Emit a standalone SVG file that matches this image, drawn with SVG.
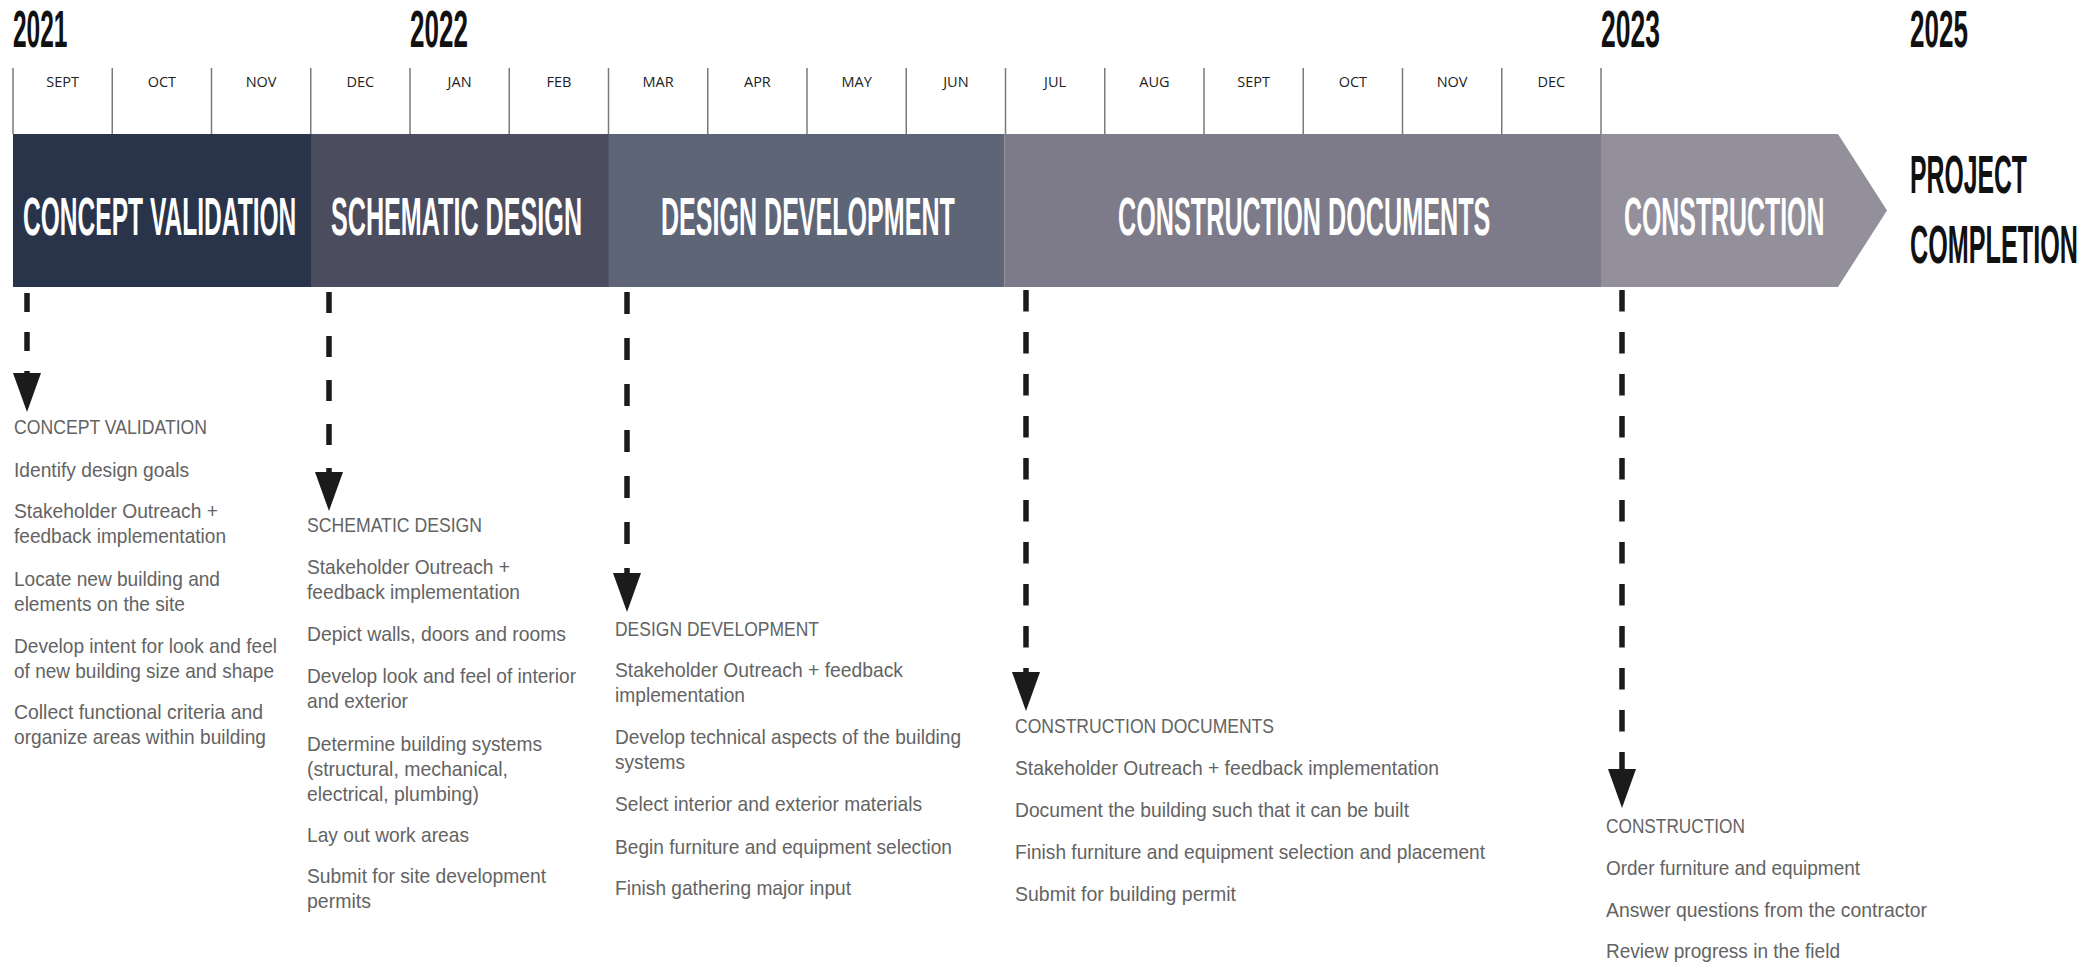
<svg xmlns="http://www.w3.org/2000/svg" width="2097" height="963" viewBox="0 0 2097 963">
<style>
.yr{font-family:"Liberation Sans",Arial,sans-serif;font-weight:bold;font-size:51px;fill:#111}
.mo{font-family:"Open Sans","Liberation Sans",sans-serif;font-size:14.5px;fill:#222;text-anchor:middle}
.tick{stroke:#7a7a7a;stroke-width:1.5}
.ph{font-family:"Liberation Sans",Arial,sans-serif;font-weight:bold;font-size:53px;fill:#fff}
.pc{font-family:"Liberation Sans",Arial,sans-serif;font-weight:bold;font-size:54px;fill:#111}
.tx{font-family:"Liberation Sans",Arial,sans-serif;font-size:21px;fill:#636363}
.arr{stroke:#1b1b1b;stroke-width:5.5;fill:none}
</style>
<defs>
<marker id="head" viewBox="0 -14 39 28" refX="0" refY="0" markerWidth="39" markerHeight="28" markerUnits="userSpaceOnUse" orient="auto">
<path d="M0,-14 L0,14 L39,0 Z" fill="#1b1b1b"/>
</marker>
</defs>
<rect width="2097" height="963" fill="#fff"/>

<g id="timeline">
<text class="yr" transform="translate(13,47) scale(0.48,1)">2021</text>
<text class="yr" transform="translate(410,47) scale(0.51,1)">2022</text>
<text class="yr" transform="translate(1601,47) scale(0.52,1)">2023</text>
<text class="yr" transform="translate(1910,47) scale(0.51,1)">2025</text>
<g>
<line class="tick" x1="13" y1="68" x2="13" y2="134"/>
<line class="tick" x1="112.25" y1="68" x2="112.25" y2="134"/>
<line class="tick" x1="211.5" y1="68" x2="211.5" y2="134"/>
<line class="tick" x1="310.75" y1="68" x2="310.75" y2="134"/>
<line class="tick" x1="410" y1="68" x2="410" y2="134"/>
<line class="tick" x1="509.25" y1="68" x2="509.25" y2="134"/>
<line class="tick" x1="608.5" y1="68" x2="608.5" y2="134"/>
<line class="tick" x1="707.75" y1="68" x2="707.75" y2="134"/>
<line class="tick" x1="807" y1="68" x2="807" y2="134"/>
<line class="tick" x1="906.25" y1="68" x2="906.25" y2="134"/>
<line class="tick" x1="1005.5" y1="68" x2="1005.5" y2="134"/>
<line class="tick" x1="1104.75" y1="68" x2="1104.75" y2="134"/>
<line class="tick" x1="1204" y1="68" x2="1204" y2="134"/>
<line class="tick" x1="1303.25" y1="68" x2="1303.25" y2="134"/>
<line class="tick" x1="1402.5" y1="68" x2="1402.5" y2="134"/>
<line class="tick" x1="1501.75" y1="68" x2="1501.75" y2="134"/>
<line class="tick" x1="1601" y1="68" x2="1601" y2="134"/>
</g>
<text class="mo" x="62.6" y="87">SEPT</text>
<text class="mo" x="161.9" y="87">OCT</text>
<text class="mo" x="261.1" y="87">NOV</text>
<text class="mo" x="360.4" y="87">DEC</text>
<text class="mo" x="459.6" y="87">JAN</text>
<text class="mo" x="558.9" y="87">FEB</text>
<text class="mo" x="658.1" y="87">MAR</text>
<text class="mo" x="757.4" y="87">APR</text>
<text class="mo" x="856.6" y="87">MAY</text>
<text class="mo" x="955.9" y="87">JUN</text>
<text class="mo" x="1055.1" y="87">JUL</text>
<text class="mo" x="1154.4" y="87">AUG</text>
<text class="mo" x="1253.6" y="87">SEPT</text>
<text class="mo" x="1352.9" y="87">OCT</text>
<text class="mo" x="1452.1" y="87">NOV</text>
<text class="mo" x="1551.4" y="87">DEC</text>
</g>

<g id="phase-concept">
<rect x="13" y="134" width="298" height="153" fill="#29344a"/>
<text class="ph" transform="translate(23,235) scale(0.4634,1)">CONCEPT VALIDATION</text>
</g>
<g id="phase-schematic">
<rect x="311" y="134" width="298" height="153" fill="#4b4c5e"/>
<text class="ph" transform="translate(331,235) scale(0.4747,1)">SCHEMATIC DESIGN</text>
</g>
<g id="phase-dd">
<rect x="608.5" y="134" width="396" height="153" fill="#5e6577"/>
<text class="ph" transform="translate(661,235) scale(0.4731,1)">DESIGN DEVELOPMENT</text>
</g>
<g id="phase-cd">
<rect x="1004.5" y="134" width="597" height="153" fill="#7d7b89"/>
<text class="ph" transform="translate(1118,235) scale(0.4756,1)">CONSTRUCTION DOCUMENTS</text>
</g>
<g id="phase-construction">
<path d="M1601,134 L1838,134 L1887,210.5 L1838,287 L1601,287 Z" fill="#93909c"/>
<text class="ph" transform="translate(1624,235) scale(0.4696,1)">CONSTRUCTION</text>
</g>
<g id="completion">
<text class="pc" transform="translate(1910,193) scale(0.4588,1)">PROJECT</text>
<text class="pc" transform="translate(1910,263) scale(0.4667,1)">COMPLETION</text>
</g>

<g id="connectors">
<line class="arr" x1="27" y1="293" x2="27" y2="373" stroke-dasharray="19 20" marker-end="url(#head)"/>
<line class="arr" x1="329" y1="292" x2="329" y2="472" stroke-dasharray="21 23" marker-end="url(#head)"/>
<line class="arr" x1="627" y1="292" x2="627" y2="573" stroke-dasharray="22 24" marker-end="url(#head)"/>
<line class="arr" x1="1026" y1="290" x2="1026" y2="672" stroke-dasharray="21.5 20.5" marker-end="url(#head)"/>
<line class="arr" x1="1622" y1="290" x2="1622" y2="769" stroke-dasharray="21.5 20.5" marker-end="url(#head)"/>
</g>

<g id="details-concept">
<text class="tx" x="14" y="434" textLength="193" lengthAdjust="spacingAndGlyphs">CONCEPT VALIDATION</text>
<text class="tx" x="14" y="477" textLength="175" lengthAdjust="spacingAndGlyphs">Identify design goals</text>
<text class="tx" x="14" y="518" textLength="204" lengthAdjust="spacingAndGlyphs">Stakeholder Outreach +</text>
<text class="tx" x="14" y="543" textLength="212" lengthAdjust="spacingAndGlyphs">feedback implementation</text>
<text class="tx" x="14" y="586" textLength="206" lengthAdjust="spacingAndGlyphs">Locate new building and</text>
<text class="tx" x="14" y="611" textLength="171" lengthAdjust="spacingAndGlyphs">elements on the site</text>
<text class="tx" x="14" y="653" textLength="263" lengthAdjust="spacingAndGlyphs">Develop intent for look and feel</text>
<text class="tx" x="14" y="678" textLength="260" lengthAdjust="spacingAndGlyphs">of new building size and shape</text>
<text class="tx" x="14" y="719" textLength="249" lengthAdjust="spacingAndGlyphs">Collect functional criteria and</text>
<text class="tx" x="14" y="744" textLength="252" lengthAdjust="spacingAndGlyphs">organize areas within building</text>
</g>
<g id="details-schematic">
<text class="tx" x="307" y="532" textLength="175" lengthAdjust="spacingAndGlyphs">SCHEMATIC DESIGN</text>
<text class="tx" x="307" y="574" textLength="203" lengthAdjust="spacingAndGlyphs">Stakeholder Outreach +</text>
<text class="tx" x="307" y="599" textLength="213" lengthAdjust="spacingAndGlyphs">feedback implementation</text>
<text class="tx" x="307" y="641" textLength="259" lengthAdjust="spacingAndGlyphs">Depict walls, doors and rooms</text>
<text class="tx" x="307" y="683" textLength="269" lengthAdjust="spacingAndGlyphs">Develop look and feel of interior</text>
<text class="tx" x="307" y="708" textLength="101" lengthAdjust="spacingAndGlyphs">and exterior</text>
<text class="tx" x="307" y="751" textLength="235" lengthAdjust="spacingAndGlyphs">Determine building systems</text>
<text class="tx" x="307" y="776" textLength="201" lengthAdjust="spacingAndGlyphs">(structural, mechanical,</text>
<text class="tx" x="307" y="801" textLength="172" lengthAdjust="spacingAndGlyphs">electrical, plumbing)</text>
<text class="tx" x="307" y="842" textLength="162" lengthAdjust="spacingAndGlyphs">Lay out work areas</text>
<text class="tx" x="307" y="883" textLength="239" lengthAdjust="spacingAndGlyphs">Submit for site development</text>
<text class="tx" x="307" y="908" textLength="64" lengthAdjust="spacingAndGlyphs">permits</text>
</g>
<g id="details-dd">
<text class="tx" x="615" y="636" textLength="204" lengthAdjust="spacingAndGlyphs">DESIGN DEVELOPMENT</text>
<text class="tx" x="615" y="677" textLength="288" lengthAdjust="spacingAndGlyphs">Stakeholder Outreach + feedback</text>
<text class="tx" x="615" y="702" textLength="130" lengthAdjust="spacingAndGlyphs">implementation</text>
<text class="tx" x="615" y="744" textLength="346" lengthAdjust="spacingAndGlyphs">Develop technical aspects of the building</text>
<text class="tx" x="615" y="769" textLength="70" lengthAdjust="spacingAndGlyphs">systems</text>
<text class="tx" x="615" y="811" textLength="307" lengthAdjust="spacingAndGlyphs">Select interior and exterior materials</text>
<text class="tx" x="615" y="854" textLength="337" lengthAdjust="spacingAndGlyphs">Begin furniture and equipment selection</text>
<text class="tx" x="615" y="895" textLength="236" lengthAdjust="spacingAndGlyphs">Finish gathering major input</text>
</g>
<g id="details-cd">
<text class="tx" x="1015" y="733" textLength="259" lengthAdjust="spacingAndGlyphs">CONSTRUCTION DOCUMENTS</text>
<text class="tx" x="1015" y="775" textLength="424" lengthAdjust="spacingAndGlyphs">Stakeholder Outreach + feedback implementation</text>
<text class="tx" x="1015" y="817" textLength="394" lengthAdjust="spacingAndGlyphs">Document the building such that it can be built</text>
<text class="tx" x="1015" y="859" textLength="470" lengthAdjust="spacingAndGlyphs">Finish furniture and equipment selection and placement</text>
<text class="tx" x="1015" y="901" textLength="221" lengthAdjust="spacingAndGlyphs">Submit for building permit</text>
</g>
<g id="details-construction">
<text class="tx" x="1606" y="833" textLength="139" lengthAdjust="spacingAndGlyphs">CONSTRUCTION</text>
<text class="tx" x="1606" y="875" textLength="254" lengthAdjust="spacingAndGlyphs">Order furniture and equipment</text>
<text class="tx" x="1606" y="917" textLength="321" lengthAdjust="spacingAndGlyphs">Answer questions from the contractor</text>
<text class="tx" x="1606" y="958" textLength="234" lengthAdjust="spacingAndGlyphs">Review progress in the field</text>
</g>
</svg>
